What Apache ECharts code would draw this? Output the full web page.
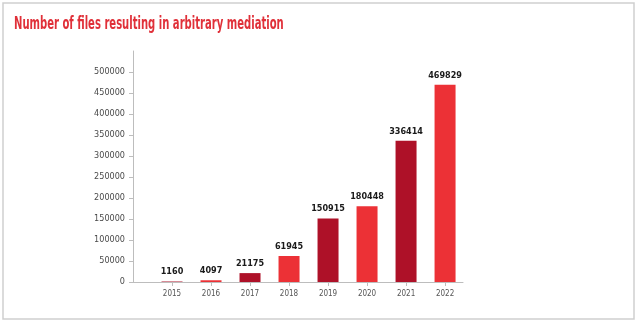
<!DOCTYPE html>
<html>
<head>
<meta charset="utf-8">
<script src="https://cdn.jsdelivr.net/npm/echarts@6/dist/echarts.min.js"></script>
<style>
  html, body { margin: 0; padding: 0; background: #ffffff; }
  #chart { width: 637px; height: 323px; }
</style>
</head>
<body>
<div id="chart"></div>
<script>
// Annual count of files that ended in arbitrary mediation
const years = ['2015', '2016', '2017', '2018', '2019', '2020', '2021', '2022'];
const files = [1160, 4097, 21175, 61945, 150915, 180448, 336414, 469829];
const yTicks = [0, 50000, 100000, 150000, 200000, 250000, 300000, 350000, 400000, 450000, 500000];

const titleText = 'Number of files resulting in arbitrary mediation';
const darkRed = '#AE1128';
const brightRed = '#EC3136';
const narrow = "'Liberation Sans Narrow', 'DejaVu Sans Condensed', 'Liberation Sans', sans-serif";

// Bars sit at positions 1..8 on a numeric x axis so the first column
// stands one slot away from the vertical axis.
const positions = years.map((_, i) => i + 1);
const barData = files.map((v, i) => ({
  value: [positions[i], v],
  itemStyle: { color: i % 2 === 0 ? darkRed : brightRed }
}));

const chart = echarts.init(document.getElementById('chart'), null, { renderer: 'canvas' });

chart.setOption({
  animation: false,
  backgroundColor: '#ffffff',
  graphic: [
    {
      type: 'rect',
      shape: { x: 3, y: 3, width: 631, height: 316 },
      style: { fill: 'none', stroke: '#cfcfcf', lineWidth: 1.5 },
      silent: true
    },
    {
      type: 'text',
      x: 14,
      y: 15,
      scaleX: 0.62,
      style: {
        text: titleText,
        fill: '#E03039',
        font: "bold 18px " + narrow
      }
    }
  ],
  grid: { left: 133, right: 174, top: 51, bottom: 41, containLabel: false },
  xAxis: {
    type: 'value',
    min: 0,
    max: 8.46,
    splitLine: { show: false },
    axisLine: { show: true, lineStyle: { color: '#bdbdbd', width: 1 } },
    axisTick: { show: true, customValues: positions, length: 4, lineStyle: { color: '#bdbdbd' } },
    axisLabel: {
      customValues: positions,
      formatter: v => years[Math.round(v) - 1] || '',
      color: '#555555',
      fontFamily: narrow,
      fontSize: 8,
      margin: 8
    }
  },
  yAxis: {
    type: 'value',
    min: 0,
    max: 550000,
    interval: 50000,
    splitLine: { show: false },
    axisLine: { show: true, lineStyle: { color: '#bdbdbd', width: 1 } },
    axisTick: { show: true, customValues: yTicks, length: 4, lineStyle: { color: '#bdbdbd' } },
    axisLabel: {
      customValues: yTicks,
      formatter: v => String(v),
      color: '#4a4a4a',
      fontFamily: narrow,
      fontSize: 9,
      margin: 8
    }
  },
  series: [{
    type: 'bar',
    data: barData,
    barWidth: 21,
    label: {
      show: true,
      position: 'top',
      distance: 5,
      formatter: p => String(p.value[1]),
      color: '#1a1a1a',
      fontFamily: narrow,
      fontWeight: 'bold',
      fontSize: 9
    }
  }]
});
</script>
</body>
</html>
